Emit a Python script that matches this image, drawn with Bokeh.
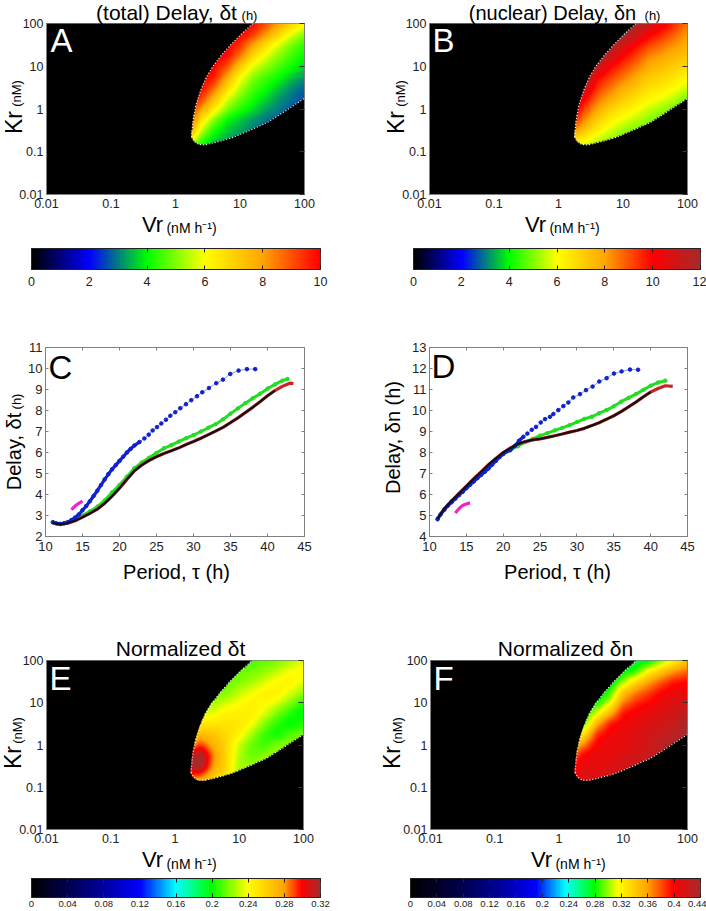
import numpy as np
from bokeh.plotting import figure
from bokeh.layouts import column, row
from bokeh.models import Label, FixedTicker, LinearAxis, LogAxis, LinearColorMapper
from bokeh.embed import file_html
from bokeh.resources import INLINE

FONT = "Liberation Sans"

# ---- data ------------------------------------------------------------
log_vr = [0.2, 0.4, 0.6, 0.8, 1.0, 1.2, 1.4, 1.6, 1.8, 2.0]
log_kr = [-1, -0.75, -0.5, -0.25, 0, 0.25, 0.5, 0.75, 1, 1.25, 1.5, 1.75, 2]

# oscillation domain boundary (log10 Vr, log10 Kr)
upper_v = [0.25, 0.26, 0.28, 0.32, 0.39, 0.48, 0.59, 0.72, 0.85, 1.02, 1.2]
upper_k = [-0.65, -0.45, -0.2, 0.1, 0.43, 0.75, 1.02, 1.27, 1.49, 1.75, 2.0]
lower_v = [0.25, 0.29, 0.36, 0.45, 0.54, 0.7, 0.9, 1.15, 1.43, 1.7, 2.0]
lower_k = [-0.65, -0.76, -0.83, -0.84, -0.81, -0.75, -0.66, -0.5, -0.31, -0.05, 0.25]

# each inner list: one log_vr column, one value per log_kr
total_delay = [
    [4.5, 6.5, 8.5, 9.5, 10, 10, 10, 10, 10, 10, 10, 10, 10],
    [3.8, 4.4, 5.6, 6.6, 8, 9.4, 10, 10, 10, 10, 10, 10, 10],
    [3.4, 3.6, 4.2, 5, 6.4, 7.5, 8.8, 9.8, 10, 10, 10, 10, 10],
    [3.1, 3.3, 3.6, 4, 5, 5.8, 6.8, 7.9, 9.1, 10, 10, 10, 10],
    [2.9, 3.0, 3.3, 3.6, 4.3, 4.9, 5.5, 6.1, 7.2, 8.6, 9.5, 10, 10],
    [2.7, 2.8, 3, 3.2, 3.8, 4.2, 4.6, 5.1, 5.8, 6.9, 8, 9.4, 10],
    [2.5, 2.6, 2.7, 2.9, 3.3, 3.7, 4.1, 4.5, 5.2, 5.8, 6.7, 8.1, 9.2],
    [2.4, 2.5, 2.5, 2.7, 3, 3.2, 3.6, 4.1, 4.6, 5.1, 5.7, 6.9, 8],
    [2.3, 2.4, 2.4, 2.5, 2.7, 2.9, 3.1, 3.6, 4.1, 4.5, 4.9, 5.8, 7],
    [2.3, 2.3, 2.4, 2.4, 2.5, 2.6, 2.8, 3.2, 3.7, 4, 4.3, 5, 6.2],
]
nuclear_delay = [
    [5, 6.5, 8.5, 10, 11, 12, 12, 12, 12, 12, 12, 12, 12],
    [5.2, 6.1, 7.3, 8.4, 9.2, 10.2, 11.5, 12, 12, 12, 12, 12, 12],
    [5, 5.5, 6.3, 7.1, 8, 8.7, 9.4, 10.1, 11.5, 12, 12, 12, 12],
    [4.8, 5.1, 5.7, 6.4, 7, 7.9, 8.6, 9.3, 10, 11.3, 12, 12, 12],
    [4.6, 4.9, 5.2, 5.9, 6.5, 7.2, 7.8, 8.6, 9.3, 10, 11, 12, 12],
    [4.4, 4.6, 4.9, 5.5, 6.1, 6.7, 7.3, 7.9, 8.6, 9.3, 10, 11.2, 12],
    [4.3, 4.4, 4.7, 5.1, 5.6, 6.2, 6.7, 7.2, 7.8, 8.4, 9.2, 10.2, 11.3],
    [4.2, 4.3, 4.5, 4.8, 5.2, 5.9, 6.5, 6.9, 7.5, 8, 8.7, 9.5, 10.4],
    [4.1, 4.2, 4.3, 4.6, 4.9, 5.5, 6.1, 6.6, 7.1, 7.6, 8.2, 8.8, 9.6],
    [4, 4, 4.1, 4.3, 4.5, 4.9, 5.6, 6.2, 6.8, 7.3, 7.7, 8.1, 8.6],
]
norm_total = [
    [.25, .29, .315, .30, .27, .25, .23, .23, .23, .23, .23, .23, .23],
    [.26, .285, .325, .325, .295, .27, .25, .235, .225, .22, .22, .22, .22],
    [.25, .265, .28, .285, .275, .265, .25, .235, .225, .22, .22, .22, .22],
    [.24, .25, .258, .258, .258, .256, .252, .245, .232, .22, .215, .215, .215],
    [.228, .228, .225, .228, .232, .245, .25, .245, .24, .23, .22, .215, .215],
    [.225, .225, .225, .215, .215, .225, .24, .248, .245, .238, .225, .218, .21],
    [.225, .225, .225, .222, .208, .208, .22, .235, .243, .245, .235, .222, .215],
    [.225, .225, .225, .225, .22, .2, .205, .218, .235, .245, .243, .23, .218],
    [.225, .225, .225, .225, .222, .212, .197, .205, .22, .235, .245, .24, .225],
    [.225, .225, .225, .225, .222, .218, .205, .196, .205, .222, .235, .243, .235],
]
norm_nuclear = [
    [.41, .41, .40, .37, .34, .30, .28, .27, .27, .27, .27, .27, .27],
    [.415, .415, .41, .405, .37, .33, .29, .275, .27, .27, .27, .27, .27],
    [.415, .415, .41, .41, .405, .39, .355, .31, .28, .27, .27, .27, .27],
    [.42, .42, .415, .41, .41, .405, .395, .35, .31, .285, .27, .27, .27],
    [.425, .425, .42, .415, .41, .41, .405, .395, .37, .345, .30, .275, .27],
    [.43, .43, .425, .42, .415, .415, .41, .405, .39, .37, .335, .285, .27],
    [.43, .43, .43, .425, .42, .42, .415, .41, .40, .385, .36, .32, .275],
    [.43, .43, .43, .43, .43, .425, .42, .415, .41, .40, .38, .345, .295],
    [.435, .435, .435, .435, .435, .43, .425, .42, .415, .41, .395, .365, .32],
    [.44, .44, .44, .44, .44, .44, .44, .43, .42, .41, .40, .375, .345],
]

# panel C
c_blue_x = [11, 11.5, 12, 12.5, 13, 13.5, 14, 14.5, 15, 15.5, 16, 16.5, 17, 17.5, 18, 18.5, 19, 19.5, 20, 20.5, 21, 21.5, 22, 22.7,
            23.36, 23.95, 24.48, 25.07, 25.65, 26.28, 26.87, 27.54, 28.22, 28.98, 29.7, 30.47, 31.19, 32.09, 33.08, 33.98, 34.97, 36.09, 37.22, 38.34]
c_blue_y = [2.68, 2.62, 2.6, 2.63, 2.68, 2.78, 2.9, 3.05, 3.25, 3.45, 3.68, 3.93, 4.18, 4.45, 4.72, 4.97, 5.2, 5.4, 5.6, 5.8, 6.0, 6.17, 6.33, 6.5,
            6.67, 6.85, 7.05, 7.21, 7.38, 7.56, 7.75, 7.92, 8.11, 8.3, 8.49, 8.68, 8.87, 9.07, 9.3, 9.47, 9.74, 9.9, 9.97, 9.97]
c_green_x = [11, 12, 13, 14, 15, 16, 17, 18, 19, 20, 21, 22, 23, 24, 25, 26, 27, 28, 29, 30, 31, 32, 33, 34, 35, 36, 37, 38, 39, 40, 41, 42, 42.7]
c_green_y = [2.68, 2.6, 2.68, 2.8, 3.0, 3.2, 3.42, 3.72, 4.1, 4.45, 4.85, 5.25, 5.52, 5.75, 5.98, 6.2, 6.35, 6.52, 6.68, 6.83, 7.0, 7.18, 7.35, 7.58, 7.85, 8.1, 8.35, 8.58, 8.8, 9.04, 9.24, 9.42, 9.5]
c_black_x = [11, 12, 13, 14, 15, 16, 17, 18, 19, 20, 21, 22, 23, 24, 25, 26, 27, 28, 29, 30, 31, 32, 33, 34, 35, 36, 37, 38, 39, 40, 41, 42, 43, 43.5]
c_black_y = [2.65, 2.58, 2.63, 2.75, 2.92, 3.1, 3.3, 3.58, 3.92, 4.3, 4.72, 5.12, 5.4, 5.62, 5.8, 5.95, 6.08, 6.22, 6.38, 6.52, 6.68, 6.85, 7.02, 7.2, 7.42, 7.65, 7.9, 8.15, 8.42, 8.7, 8.95, 9.15, 9.3, 9.28]
c_mag_x = [13.5, 14, 14.5, 15]
c_mag_y = [3.28, 3.45, 3.58, 3.68]

# panel D
d_blue_x = [11.1, 11.5, 12, 12.5, 13, 13.5, 14, 14.5, 15, 15.5, 16, 16.5, 17, 17.5, 18, 18.5, 19, 19.5, 20, 20.93, 21.6, 22.15, 22.74, 23.28, 23.87,
            24.45, 25.09, 25.67, 26.35, 26.8, 27.48, 28.16, 28.84, 29.5, 30.42, 31.23, 32.13, 33.03, 34.03, 35.02, 36.06, 37.2, 38.3]
d_blue_y = [4.82, 5.05, 5.27, 5.47, 5.63, 5.8, 5.97, 6.13, 6.3, 6.46, 6.62, 6.78, 6.93, 7.08, 7.24, 7.42, 7.6, 7.78, 7.93, 8.11, 8.32, 8.56, 8.75, 8.9, 9.08,
            9.22, 9.43, 9.59, 9.7, 9.83, 10.02, 10.21, 10.38, 10.62, 10.78, 10.97, 11.14, 11.38, 11.54, 11.76, 11.86, 11.95, 11.94]
d_green_x = [11.1, 12, 13, 14, 15, 16, 17, 18, 19, 20, 21, 22, 23, 24, 25, 26, 27, 28, 29, 30, 31, 32, 33, 34, 35, 36, 37, 38, 39, 40, 41, 42]
d_green_y = [4.85, 5.3, 5.68, 6.02, 6.35, 6.68, 7.0, 7.35, 7.65, 7.95, 8.13, 8.3, 8.5, 8.65, 8.8, 8.92, 9.05, 9.17, 9.3, 9.45, 9.6, 9.7, 9.87, 10.02, 10.2, 10.42, 10.6, 10.78, 10.98, 11.18, 11.33, 11.42]
d_black_x = [11.1, 12, 13, 14, 15, 16, 17, 18, 19, 20, 21, 22, 23, 24, 25, 26, 27, 28, 29, 30, 31, 32, 33, 34, 35, 36, 37, 38, 39, 40, 41, 42, 43]
d_black_y = [4.85, 5.32, 5.7, 6.05, 6.4, 6.75, 7.08, 7.42, 7.72, 8.0, 8.22, 8.4, 8.52, 8.6, 8.65, 8.72, 8.8, 8.88, 8.97, 9.05, 9.15, 9.28, 9.42, 9.58, 9.75, 9.95, 10.17, 10.4, 10.65, 10.88, 11.05, 11.18, 11.15]
d_mag_x = [13.5, 14, 14.5, 15, 15.5]
d_mag_y = [5.12, 5.32, 5.48, 5.55, 5.6]

# colour bar stops
stops_a = [(0, "#000000"), (2, "#0000ff"), (4, "#00ff00"), (6, "#ffff00"), (8, "#ffa500"), (10, "#ff0000")]
stops_b = stops_a + [(12, "#a52a2a")]
stops_e = [(0, "#000000"), (.04, "#000050"), (.08, "#0000a0"), (.12, "#0000ff"), (.16, "#00ffff"), (.2, "#00ff00"),
           (.24, "#ffff00"), (.28, "#ffa500"), (.30, "#ff0000"), (.32, "#a52a2a")]
stops_f = [(0, "#000000"), (.08, "#000050"), (.14, "#0000a0"), (.19, "#0000ff"), (.235, "#00ffff"), (.28, "#00ff00"),
           (.315, "#ffff00"), (.36, "#ffa500"), (.40, "#ff0000"), (.44, "#a52a2a")]
ticks_a = [0, 2, 4, 6, 8, 10]
ticks_b = [0, 2, 4, 6, 8, 10, 12]
ticks_e = [0, .04, .08, .12, .16, .2, .24, .28, .32]
ticks_f = [0, .04, .08, .12, .16, .2, .24, .28, .32, .36, .4, .44]
log_ticks = [0.01, 0.1, 1, 10, 100]
log_labels = {0.01: "0.01", 0.1: "0.1", 1: "1", 10: "10", 100: "100"}

PAGE_W, PAGE_H = 706, 911

# transparent sheet over the panels that carries the mixed-size axis texts
sheet = figure(width=PAGE_W, height=PAGE_H, x_range=(0, PAGE_W), y_range=(PAGE_H, 0),
               min_border=0, toolbar_location=None, output_backend="svg", margin=(-PAGE_H, 0, 0, 0))
sheet.axis.visible = False
sheet.grid.visible = False
sheet.outline_line_color = None
sheet.background_fill_alpha = 0
sheet.border_fill_alpha = 0


# ---- helpers ----------------------------------------------------------
def palette(stops, n=256):
    pos = np.array([s[0] for s in stops], float)
    rgb = np.array([[int(s[1][i:i + 2], 16) for i in (1, 3, 5)] for s in stops], float)
    t = np.linspace(pos[0], pos[-1], n)
    chans = [np.interp(t, pos, rgb[:, i]).round().astype(int) for i in range(3)]
    return ["#%02x%02x%02x" % (r, g, b) for r, g, b in zip(*chans)]


def field_image(columns, nx=258, ny=171, blur=5):
    """Resample the read-off grid to the frame like an image's bilinear filter, masked to the domain."""
    m = np.array(columns, float)
    vx = np.linspace(-2, 2, nx)
    ky = np.linspace(-2, 2, ny)
    tmp = np.array([np.interp(ky, log_kr, m[i]) for i in range(m.shape[0])])
    img = np.array([np.interp(vx, log_vr, tmp[:, j]) for j in range(ny)])
    ker = np.ones(blur) / blur
    pad = blur // 2
    for _ in range(2):
        for ax in (0, 1):
            img = np.apply_along_axis(lambda s: np.convolve(np.pad(s, pad, mode="edge"), ker, mode="valid"), ax, img)
    hi = np.interp(vx, upper_v, upper_k, right=2.5)
    lo = np.interp(vx, lower_v, lower_k)
    mask = (vx[None, :] >= upper_v[0]) & (ky[:, None] <= hi[None, :]) & (ky[:, None] >= lo[None, :])
    img[~mask] = np.nan
    return img


def text(x, y, s, size, color="black", angle=0):
    sheet.add_layout(Label(x=x, y=y, text=s, text_font=FONT, text_font_size=f"{size}px", text_color=color,
                           text_align="center", text_baseline="middle", angle=angle, angle_units="deg"))


def style_axis(ax, size, color="#808080"):
    ax.major_label_text_font = FONT
    ax.major_label_text_font_size = f"{size}px"
    ax.major_label_text_color = "#222222"
    ax.axis_line_color = color
    ax.major_tick_line_color = color
    ax.minor_tick_line_color = None
    ax.major_tick_out = 0


def heat_panel(columns, stops, W, H, left, right, top, bottom):
    p = figure(width=W, height=H, x_axis_type="log", y_axis_type="log", x_range=(0.01, 100), y_range=(0.01, 100),
               min_border_left=left, min_border_right=right, min_border_top=top, min_border_bottom=bottom,
               toolbar_location=None, output_backend="svg", background_fill_color="black")
    p.grid.visible = False
    p.outline_line_color = "#808080"
    pal = palette(stops)
    mapper = LinearColorMapper(palette=pal, low=stops[0][0], high=stops[-1][0], nan_color="#000000")
    p.image(image=[field_image(columns)], x=0.01, y=0.01, dw=99.99, dh=99.99, color_mapper=mapper)
    p.line(10 ** np.array(upper_v), 10 ** np.array(upper_k), line_color="white", line_width=1.2, line_dash="1 2")
    p.line(10 ** np.array(lower_v), 10 ** np.array(lower_k), line_color="white", line_width=1.2, line_dash="1 2")
    for ax in (p.xaxis[0], p.yaxis[0]):
        ax.ticker = FixedTicker(ticks=log_ticks)
        ax.major_label_overrides = log_labels
        style_axis(ax, 12.5)
        ax.major_tick_in = 0
    p.xaxis[0].major_label_standoff = 4
    p.yaxis[0].major_label_standoff = 3
    rt = LogAxis(ticker=FixedTicker(ticks=log_ticks), major_label_text_color=None, axis_line_color="#808080",
                 major_tick_line_color="#333333", major_tick_in=5, major_tick_out=0, minor_tick_line_color=None,
                 major_label_standoff=0)
    p.add_layout(rt, "right")
    return p


def bar_panel(stops, ticks, W, H, left, right, top, bottom, size, standoff):
    lo, hi = stops[0][0], stops[-1][0]
    p = figure(width=W, height=H, x_range=(lo, hi), y_range=(0, 1),
               min_border_left=left, min_border_right=right, min_border_top=top, min_border_bottom=bottom,
               toolbar_location=None, output_backend="svg")
    p.grid.visible = False
    p.yaxis.visible = False
    p.outline_line_color = "#333333"
    mapper = LinearColorMapper(palette=palette(stops), low=lo, high=hi)
    p.image(image=[np.linspace(lo, hi, W)[None, :]], x=lo, y=0, dw=hi - lo, dh=1, color_mapper=mapper)
    ax = p.xaxis[0]
    ax.ticker = FixedTicker(ticks=ticks)
    ax.major_label_overrides = {t: f"{t:g}" for t in ticks}
    style_axis(ax, size, "#222222")
    ax.major_tick_in = 4
    ax.major_label_standoff = standoff
    up = LinearAxis(ticker=FixedTicker(ticks=ticks), major_label_text_color=None, axis_line_color="#222222",
                    major_tick_line_color="#222222", major_tick_in=4, major_tick_out=0, minor_tick_line_color=None,
                    major_label_standoff=0)
    p.add_layout(up, "above")
    return p


def curve_panel(blue, green, black, mag, yr, yticks, W, H, left, right, top, bottom):
    p = figure(width=W, height=H, x_range=(10, 45), y_range=yr,
               min_border_left=left, min_border_right=right, min_border_top=top, min_border_bottom=bottom,
               toolbar_location=None, output_backend="svg")
    p.grid.visible = False
    p.outline_line_color = "#808080"
    xticks = list(range(10, 46, 5))
    bx, by = np.array(blue[0]), np.array(blue[1])
    dense = bx < 22.8
    p.line(green[0], green[1], line_color="#22dd22", line_width=3)
    p.scatter(green[0], green[1], size=3.5, color="#22dd22")
    p.line(black[0], black[1], line_color="#cc2222", line_width=3.2)
    p.line(bx, by, line_color="#6688dd", line_width=0.8)
    p.line(bx[dense], by[dense], line_color="#1122cc", line_width=3.2)
    p.scatter(bx, by, size=3.6, color="#1122cc")
    p.line(black[0][:-3], black[1][:-3], line_color="#111111", line_width=2.2)
    p.line(mag[0], mag[1], line_color="#ee22cc", line_width=3.2)
    for ax, tk in ((p.xaxis[0], xticks), (p.yaxis[0], yticks)):
        ax.ticker = FixedTicker(ticks=tk)
        style_axis(ax, 13)
        ax.major_tick_in = 3
    p.xaxis[0].major_label_standoff = 5
    p.yaxis[0].major_label_standoff = 3
    for place, tk in (("right", yticks), ("above", xticks)):
        a = LinearAxis(ticker=FixedTicker(ticks=tk), major_label_text_color=None, axis_line_color="#808080",
                       major_tick_line_color="#808080", major_tick_in=3, major_tick_out=0, minor_tick_line_color=None,
                       major_label_standoff=0)
        p.add_layout(a, place)
    return p


# ---- panels -----------------------------------------------------------
R1, R2, R3, R4, R5 = 238, 57, 325, 248, 43

A = heat_panel(total_delay, stops_a, 353, R1, 46, 49, 23, 44)
text(166, 12, "(total) Delay, δt", 21)
text(249, 15, "(h)", 13)
text(61, 40, "A", 33, "white")
text(13, 122, "Kr", 23, angle=90)
text(16, 93, "(nM)", 13, angle=90)
text(152, 224, "Vr", 22)
text(191, 227, "(nM h⁻¹)", 14)

B = heat_panel(nuclear_delay, stops_b, 353, R1, 76, 19, 23, 44)
text(552, 12, "(nuclear) Delay, δn", 20)
text(652, 15, "(h)", 13)
text(443, 40, "B", 33, "white")
text(395, 122, "Kr", 23, angle=90)
text(400, 93, "(nM)", 13, angle=90)
text(535, 224, "Vr", 22)
text(574, 227, "(nM h⁻¹)", 14)

barA = bar_panel(stops_a, ticks_a, 353, R2, 31, 33, 10, 26, 12.5, 7)
barB = bar_panel(stops_b, ticks_b, 353, R2, 60, 6, 10, 26, 12.5, 7)

C = curve_panel((c_blue_x, c_blue_y), (c_green_x, c_green_y), (c_black_x, c_black_y), (c_mag_x, c_mag_y),
                (2, 11), list(range(2, 12)), 353, R3, 45, 49, 52, 83)
text(60, 367, "C", 33)
text(13, 451, "Delay, δt", 20, angle=90)
text(16, 401, "(h)", 13, angle=90)
text(176, 571, "Period, τ (h)", 20)

D = curve_panel((d_blue_x, d_blue_y), (d_green_x, d_green_y), (d_black_x, d_black_y), (d_mag_x, d_mag_y),
                (4, 13), list(range(4, 14)), 353, R3, 76, 19, 52, 84)
text(443, 366, "D", 33)
text(392, 437, "Delay, δn (h)", 20, angle=90)
text(557, 571, "Period, τ (h)", 20)

E = heat_panel(norm_total, stops_e, 353, R4, 46, 50, 40, 37)
text(180, 648, "Normalized δt", 21)
text(60, 678, "E", 33, "white")
text(12, 757, "Kr", 23, angle=90)
text(17, 730, "(nM)", 13, angle=90)
text(152, 859, "Vr", 22)
text(191, 863, "(nM h⁻¹)", 14)

F = heat_panel(norm_nuclear, stops_f, 353, R4, 77, 19, 39, 39)
text(565, 648, "Normalized δn", 21)
text(443, 678, "F", 33, "white")
text(391, 757, "Kr", 23, angle=90)
text(397, 730, "(nM)", 13, angle=90)
text(541, 859, "Vr", 22)
text(580, 863, "(nM h⁻¹)", 14)

barE = bar_panel(stops_e, ticks_e, 353, R5, 31, 33, 10, 14, 9.5, 3)
barF = bar_panel(stops_f, ticks_f, 353, R5, 57, 6, 9, 14, 9.5, 3)

page = column(row(A, B, spacing=0), row(barA, barB, spacing=0), row(C, D, spacing=0), row(E, F, spacing=0),
              row(barE, barF, spacing=0), sheet, spacing=0)

open("out.html", "w").write(file_html(page, INLINE))
